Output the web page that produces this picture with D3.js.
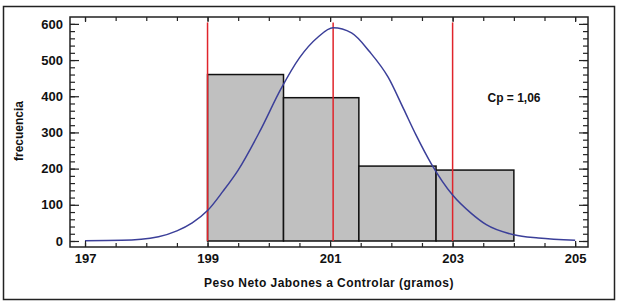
<!DOCTYPE html>
<html>
<head>
<meta charset="utf-8">
<script src="https://cdn.jsdelivr.net/npm/d3@7"></script>
<style>
  body { margin: 0; background: #fff; }
  svg text { font-family: "Liberation Sans", Arial, sans-serif; font-weight: bold; fill: #111; }
</style>
</head>
<body>
<div id="graphicContainer"></div>
<script>

// histogram bins (gramos) and frequencies
const binEdges = [199, 200.24, 201.47, 202.73, 204.0]
const binCounts = [460, 396, 207, 196]

// fitted curve, points
const curveX = [197.0, 197.6, 198.2, 198.5, 198.75, 199.0, 199.25, 199.5, 199.85, 200.2, 200.5, 200.8, 201.05, 201.35, 201.65, 201.95, 202.2, 202.4, 202.65, 203.0, 203.3, 203.55, 204.0, 204.4, 205.0]
const curveY = [1, 2, 12, 28, 50, 84, 137, 196, 302, 421, 506, 563, 589, 575, 522, 452, 365, 294, 214, 127, 77, 45, 17, 8, 2]

// spec limits and target
const specLines = [199, 201.05, 203]

const xTicks = [197, 199, 201, 203, 205]
const yTicks = [0, 100, 200, 300, 400, 500, 600]

const cpLabel = "Cp = 1,06"
const xAxisLabel = "Peso Neto Jabones a Controlar (gramos)"
const yAxisLabel = "frecuencia"

const width = 618
const height = 304

const frame = { left: 70, top: 17, right: 588, bottom: 247 }

const svg = d3.select("#graphicContainer").append("svg")
  .attr("width", width)
  .attr("height", height)

svg.append("rect")
  .attr("x", 3.5)
  .attr("y", 6.5)
  .attr("width", 611)
  .attr("height", 293)
  .attr("fill", "#fff")
  .attr("stroke", "#222")
  .attr("stroke-width", 1.5)

const x = d3.scaleLinear()
  .domain([196.755, 205.21])
  .range([frame.left, frame.right])

const y = d3.scaleLinear()
  .domain([-16.6, 619])
  .range([frame.bottom, frame.top])

const minorX = d3.range(197, 205.01, 0.5)
const minorY = d3.range(0, 600.1, 20)

// bars
const bars = binCounts.map((c, i) => ({ x0: binEdges[i], x1: binEdges[i + 1], v: c }))

svg.append("g")
  .selectAll("rect")
  .data(bars)
  .enter()
  .append("rect")
  .attr("x", d => x(d.x0))
  .attr("y", d => y(d.v))
  .attr("width", d => x(d.x1) - x(d.x0))
  .attr("height", d => y(0) - y(d.v))
  .attr("fill", "#c0c0c0")
  .attr("stroke", "#111")
  .attr("stroke-width", 1.5)

// red lines
svg.append("g")
  .selectAll("line")
  .data(specLines)
  .enter()
  .append("line")
  .attr("x1", d => x(d))
  .attr("x2", d => x(d))
  .attr("y1", y(604))
  .attr("y2", y(0))
  .attr("stroke", "#e0242b")
  .attr("stroke-width", 1.5)

// curve
const pts = curveX.map((v, i) => [v, curveY[i]])

svg.append("path")
  .datum(pts)
  .attr("fill", "none")
  .attr("stroke", "#3b3f99")
  .attr("stroke-width", 1.5)
  .attr("d", d3.line()
    .x(d => x(d[0]))
    .y(d => y(d[1]))
    .curve(d3.curveMonotoneX))

// axes: minor ticks then major ticks, all pointing inward
const tickGroup = (axis, tx, ty) => {
  const g = svg.append("g")
    .attr("transform", `translate(${tx},${ty})`)
    .call(axis)
  g.select(".domain").remove()
  g.selectAll(".tick line").attr("stroke", "#222").attr("stroke-width", 1.2)
  return g
}

tickGroup(d3.axisBottom(x).tickValues(minorX).tickSize(-4).tickFormat(""), 0, frame.bottom)
tickGroup(d3.axisBottom(x).tickValues(xTicks).tickSize(-6).tickPadding(7).tickFormat(d3.format("d")), 0, frame.bottom)
  .selectAll("text").attr("font-size", 13)

tickGroup(d3.axisTop(x).tickValues(minorX).tickSize(-4).tickFormat(""), 0, frame.top)
tickGroup(d3.axisTop(x).tickValues(xTicks).tickSize(-5).tickFormat(""), 0, frame.top)

tickGroup(d3.axisLeft(y).tickValues(minorY).tickSize(-5).tickFormat(""), frame.left, 0)
tickGroup(d3.axisLeft(y).tickValues(yTicks).tickSize(-9).tickPadding(7).tickFormat(d3.format("d")), frame.left, 0)
  .selectAll("text").attr("font-size", 13)

tickGroup(d3.axisRight(y).tickValues(minorY).tickSize(-5).tickFormat(""), frame.right, 0)
tickGroup(d3.axisRight(y).tickValues(yTicks).tickSize(-9).tickFormat(""), frame.right, 0)

// frame
svg.append("rect")
  .attr("x", frame.left)
  .attr("y", frame.top)
  .attr("width", frame.right - frame.left)
  .attr("height", frame.bottom - frame.top)
  .attr("fill", "none")
  .attr("stroke", "#222")
  .attr("stroke-width", 1.5)

svg.append("text")
  .attr("x", 514)
  .attr("y", 102)
  .attr("text-anchor", "middle")
  .attr("font-size", 12)
  .text(cpLabel)

svg.append("text")
  .attr("x", 329)
  .attr("y", 287)
  .attr("text-anchor", "middle")
  .attr("font-size", 12)
  .attr("letter-spacing", 0.45)
  .text(xAxisLabel)

svg.append("text")
  .attr("transform", "translate(23,131) rotate(-90)")
  .attr("text-anchor", "middle")
  .attr("font-size", 12)
  .text(yAxisLabel)

</script>
</body>
</html>
